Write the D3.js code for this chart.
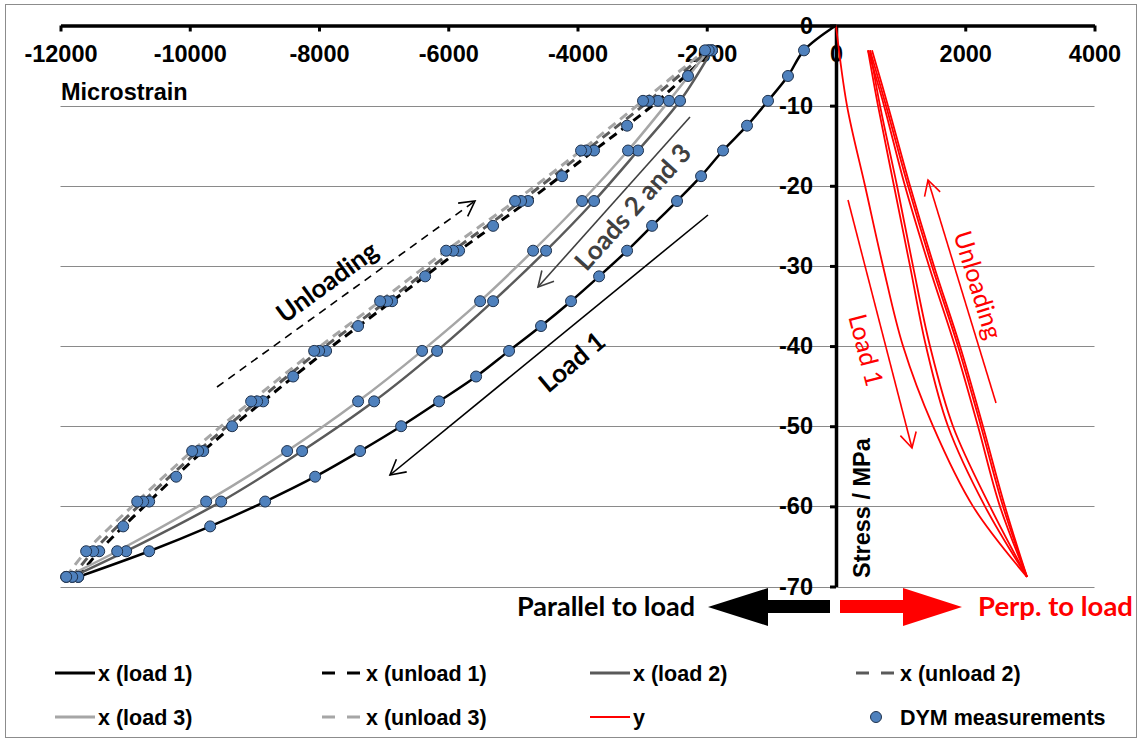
<!DOCTYPE html>
<html>
<head>
<meta charset="utf-8">
<script src="https://cdn.jsdelivr.net/npm/d3@7"></script>
<style>
  body { margin: 0; background: #fff; }
  svg { display: block; font-family: "Liberation Sans", Arial, sans-serif; }
</style>
</head>
<body>
<svg id="chart" width="1140" height="742"></svg>
<script>
// ---- data (strain in microstrain, stress in MPa) ----
var xTicks = [-12000, -10000, -8000, -6000, -4000, -2000, 0, 2000, 4000];
var yTicks = [-70, -60, -50, -40, -30, -20, -10, 0];

// x, load 1 (DYM measurement at every level)
var stressLoad1 = [0, -3.1, -6.3, -9.4, -12.5, -15.6, -18.8, -21.9, -25.0, -28.1, -31.3, -34.4,
                   -37.5, -40.6, -43.8, -46.9, -50.0, -53.1, -56.3, -59.4, -62.5, -65.6, -68.8];
var strainLoad1 = [0, -495, -743, -1052, -1377, -1748, -2088, -2460, -2846, -3233, -3666, -4100,
                   -4564, -5059, -5569, -6142, -6729, -7364, -8060, -8833, -9684, -10628, -11726];

// x, loads 2 and 3
var stressReload = [-3.1, -9.4, -15.6, -21.9, -28.1, -34.4, -40.6, -46.9, -53.1, -59.4, -65.6, -68.8];
var strainLoad2 = [-1919, -2413, -3063, -3744, -4486, -5306, -6173, -7147, -8261, -9514, -10984, -11819];
var strainLoad3 = [-1970, -2584, -3218, -3929, -4687, -5507, -6405, -7395, -8493, -9746, -11123, -11912];

// x, unloads 1-3
var stressUnload = [-68.8, -65.6, -59.4, -53.1, -46.9, -40.6, -34.4, -28.1, -21.9, -15.6, -9.4, -3.1];
var strainUnload1 = [-11726, -11401, -10628, -9792, -8864, -7890, -6869, -5832, -4765, -3744, -2754, -1919];
var strainUnload2 = [-11819, -11494, -10721, -9870, -8957, -7998, -6946, -5925, -4873, -3868, -2893, -1970];
var strainUnload3 = [-11912, -11603, -10813, -9963, -9050, -8075, -7054, -6033, -4966, -3945, -2986, -2027];

// extra DYM points on the unloading branch
var stressDymExtra = [-6.3, -12.5, -18.8, -25.0, -31.3, -37.5, -43.8, -50.0, -56.3, -62.5];
var strainDymExtra = [-2290, -3233, -4239, -5306, -6358, -7395, -8400, -9344, -10210, -11030];

// y (perpendicular to load)
var stressYLoad1 = [0, -10, -20, -30, -40, -50, -60, -68.8];
var strainYLoad1 = [0, 170, 449, 727, 1037, 1501, 2120, 2955];
var stressYReload = [-3.1, -10, -20, -30, -40, -50, -60, -68.8];
var strainYLoad2 = [495, 650, 897, 1145, 1392, 1733, 2305, 2955];
var strainYLoad3 = [526, 681, 944, 1191, 1454, 1810, 2383, 2955];
var stressYUnload = [-68.8, -60, -50, -40, -30, -20, -10, -3.1];
var strainYUnload1 = [2955, 2537, 2197, 1841, 1439, 1067, 743, 495];
var strainYUnload2 = [2955, 2584, 2243, 1887, 1485, 1114, 774, 526];
var strainYUnload3 = [2955, 2614, 2274, 1918, 1516, 1145, 804, 557];

var legendNames = ["x (load 1)", "x (unload 1)", "x (load 2)", "x (unload 2)",
                   "x (load 3)", "x (unload 3)", "y", "DYM measurements"];

// ---- helpers ----
function zip(xs, ys) {
  return xs.map(function (d, i) { return [d, ys[i]]; });
}

var svg = d3.select("#chart");
var x = d3.scaleLinear().domain([-12000, 4000]).range([60.5, 1094.5]);
var y = d3.scaleLinear().domain([-70, 0]).range([586.5, 25.5]);

var BLACK = "#000000", DARK = "#5a5a5a", LIGHT = "#a6a6a6", RED = "#ff0000";
var MARK_FILL = "#4f81bd", MARK_EDGE = "#1f324d";
var annoFont = "Lato, 'Open Sans', sans-serif";

// outer frame
svg.append("rect").attr("x", 5.5).attr("y", 4.5).attr("width", 1131).attr("height", 733)
  .attr("fill", "none").attr("stroke", "#8c8c8c").attr("stroke-width", 1);

// gridlines
svg.append("g").selectAll("line").data(yTicks.filter(function (d) { return d < 0; }))
  .enter().append("line")
  .attr("x1", x.range()[0]).attr("x2", x.range()[1])
  .attr("y1", function (d) { return Math.round(y(d)) + 0.5; })
  .attr("y2", function (d) { return Math.round(y(d)) + 0.5; })
  .attr("stroke", "#8a8a8a").attr("stroke-width", 1);

// axes
var xAxis = svg.append("g").attr("transform", "translate(0," + y(0) + ")")
  .call(d3.axisBottom(x).tickValues(xTicks).tickSize(6).tickSizeOuter(0).tickPadding(14)
    .tickFormat(function (d) { return String(d); }));
var yAxis = svg.append("g").attr("transform", "translate(" + x(0) + ",0)")
  .call(d3.axisLeft(y).tickValues(yTicks).tickSize(6).tickSizeOuter(0).tickPadding(17)
    .tickFormat(function (d) { return String(d); }));
[xAxis, yAxis].forEach(function (a) {
  a.select(".domain").attr("stroke", BLACK).attr("stroke-width", 3.5);
  a.selectAll(".tick line").attr("stroke", BLACK).attr("stroke-width", 3);
  a.selectAll(".tick text").attr("fill", BLACK).style("font-size", "23.5px")
    .style("font-weight", "bold").style("font-family", "'Liberation Sans', Arial, sans-serif");
});

// axis titles
svg.append("text").attr("x", 61).attr("y", 100).text("Microstrain")
  .style("font-size", "23.5px").style("font-weight", "bold");
svg.append("text").attr("transform", "translate(870,578) rotate(-90)").text("Stress / MPa")
  .style("font-size", "23.5px").style("font-weight", "bold");

// ---- series ----
var line = d3.line().curve(d3.curveCatmullRom.alpha(0.5))
  .x(function (d) { return x(d[0]); }).y(function (d) { return y(d[1]); });
var series = [
  { pts: zip(strainYLoad1, stressYLoad1), color: RED, w: 1.8 },
  { pts: zip(strainYUnload1, stressYUnload), color: RED, w: 1.8 },
  { pts: zip(strainYLoad2, stressYReload), color: RED, w: 1.8 },
  { pts: zip(strainYUnload2, stressYUnload), color: RED, w: 1.8 },
  { pts: zip(strainYLoad3, stressYReload), color: RED, w: 1.8 },
  { pts: zip(strainYUnload3, stressYUnload), color: RED, w: 1.8 },
  { pts: zip(strainUnload3, stressUnload), color: LIGHT, w: 3, dash: "9,6" },
  { pts: zip(strainUnload2, stressUnload), color: DARK, w: 3, dash: "9,6" },
  { pts: zip(strainUnload1, stressUnload), color: BLACK, w: 3, dash: "9,6" },
  { pts: zip(strainLoad3, stressReload), color: LIGHT, w: 2.5 },
  { pts: zip(strainLoad2, stressReload), color: DARK, w: 2.5 },
  { pts: zip(strainLoad1, stressLoad1), color: BLACK, w: 2.5 }
];
svg.append("g").selectAll("path").data(series).enter().append("path")
  .attr("d", function (d) { return line(d.pts); })
  .attr("fill", "none")
  .attr("stroke", function (d) { return d.color; })
  .attr("stroke-width", function (d) { return d.w; })
  .attr("stroke-dasharray", function (d) { return d.dash || null; })
  .attr("stroke-linejoin", "round");

// DYM measurement markers: every x-series vertex (except origin) plus the extra points
var dym = [];
[zip(strainLoad1, stressLoad1).slice(1), zip(strainLoad2, stressReload), zip(strainLoad3, stressReload),
 zip(strainUnload1, stressUnload), zip(strainUnload2, stressUnload), zip(strainUnload3, stressUnload),
 zip(strainDymExtra, stressDymExtra)].forEach(function (arr) { dym = dym.concat(arr); });
svg.append("g").selectAll("circle").data(dym).enter().append("circle")
  .attr("cx", function (d) { return x(d[0]); })
  .attr("cy", function (d) { return y(d[1]); })
  .attr("r", 5.5).attr("fill", MARK_FILL).attr("stroke", MARK_EDGE).attr("stroke-width", 1);

// ---- annotations ----
function arrow(x1, y1, x2, y2, color, width, dash) {
  var g = svg.append("g").attr("stroke", color).attr("stroke-width", width).attr("fill", "none");
  g.append("line").attr("x1", x1).attr("y1", y1).attr("x2", x2).attr("y2", y2)
    .attr("stroke-dasharray", dash || null);
  var a = Math.atan2(y2 - y1, x2 - x1), L = 17, s = 0.5;
  g.append("path").attr("d", "M" + (x2 - L * Math.cos(a - s)) + "," + (y2 - L * Math.sin(a - s)) +
    "L" + x2 + "," + y2 + "L" + (x2 - L * Math.cos(a + s)) + "," + (y2 - L * Math.sin(a + s)));
}
function label(txt, cx, cy, rot, color, size, weight) {
  svg.append("text").attr("transform", "translate(" + cx + "," + cy + ") rotate(" + rot + ")")
    .attr("text-anchor", "middle").attr("dy", "0.35em").text(txt)
    .attr("fill", color).style("font-family", annoFont)
    .style("font-size", size + "px").style("font-weight", weight);
}
arrow(217, 387, 475, 201, BLACK, 1.6, "8,6");
label("Unloading", 327, 282, -36, BLACK, 26, "bold");
arrow(690, 117, 538, 287, "#404040", 1.6);
label("Loads 2 and 3", 633, 207, -48, "#404040", 26, "bold");
arrow(708, 215, 390, 475, BLACK, 1.6);
label("Load 1", 572, 362, -40, BLACK, 26, "bold");
arrow(996, 403, 928, 180, RED, 1.6);
label("Unloading", 978, 285, 73, RED, 25, "normal");
arrow(848, 200, 912, 448, RED, 1.6);
label("Load 1", 866, 350, 75.5, RED, 25, "normal");

// direction arrows under the plot
var x0 = x(0);
svg.append("path").attr("fill", BLACK)
  .attr("d", "M" + (x0 - 6) + ",600L" + (x0 - 68) + ",600L" + (x0 - 68) + ",588L" + (x0 - 128) + ",607L" +
    (x0 - 68) + ",626L" + (x0 - 68) + ",613L" + (x0 - 6) + ",613Z");
svg.append("path").attr("fill", RED)
  .attr("d", "M" + (x0 + 4) + ",600L" + (x0 + 67) + ",600L" + (x0 + 67) + ",588L" + (x0 + 126) + ",607L" +
    (x0 + 67) + ",626L" + (x0 + 67) + ",613L" + (x0 + 4) + ",613Z");
svg.append("text").attr("x", 695).attr("y", 616).attr("text-anchor", "end").text("Parallel to load")
  .style("font-family", annoFont).style("font-size", "27px").style("font-weight", "bold");
svg.append("text").attr("x", 978).attr("y", 616).text("Perp. to load").attr("fill", RED)
  .style("font-family", annoFont).style("font-size", "27.5px").style("font-weight", "bold");

// ---- legend ----
var legendStyles = [
  { color: BLACK, dash: null }, { color: BLACK, dash: "13,12" },
  { color: DARK, dash: null }, { color: DARK, dash: "13,12" },
  { color: LIGHT, dash: null }, { color: LIGHT, dash: "13,12" },
  { color: RED, dash: null, thin: true }, { marker: true }
];
var colX = [55, 322, 590, 856], rowY = [673, 717];
var leg = svg.append("g").selectAll("g").data(legendNames).enter().append("g")
  .attr("transform", function (d, i) { return "translate(" + colX[i % 4] + "," + rowY[Math.floor(i / 4)] + ")"; });
leg.each(function (d, i) {
  var g = d3.select(this), st = legendStyles[i];
  if (st.marker) {
    g.append("circle").attr("cx", 20).attr("cy", 0).attr("r", 5.5)
      .attr("fill", MARK_FILL).attr("stroke", MARK_EDGE).attr("stroke-width", 1);
  } else {
    g.append("line").attr("x1", 0).attr("x2", st.dash ? 38 : 40).attr("y1", 0).attr("y2", 0)
      .attr("stroke", st.color).attr("stroke-width", st.thin ? 2 : 3)
      .attr("stroke-dasharray", st.dash);
  }
  g.append("text").attr("x", st.dash || st.marker ? 44 : 43).attr("y", 8).text(d)
    .style("font-size", "21.5px").style("font-weight", "bold");
});
</script>
</body>
</html>
